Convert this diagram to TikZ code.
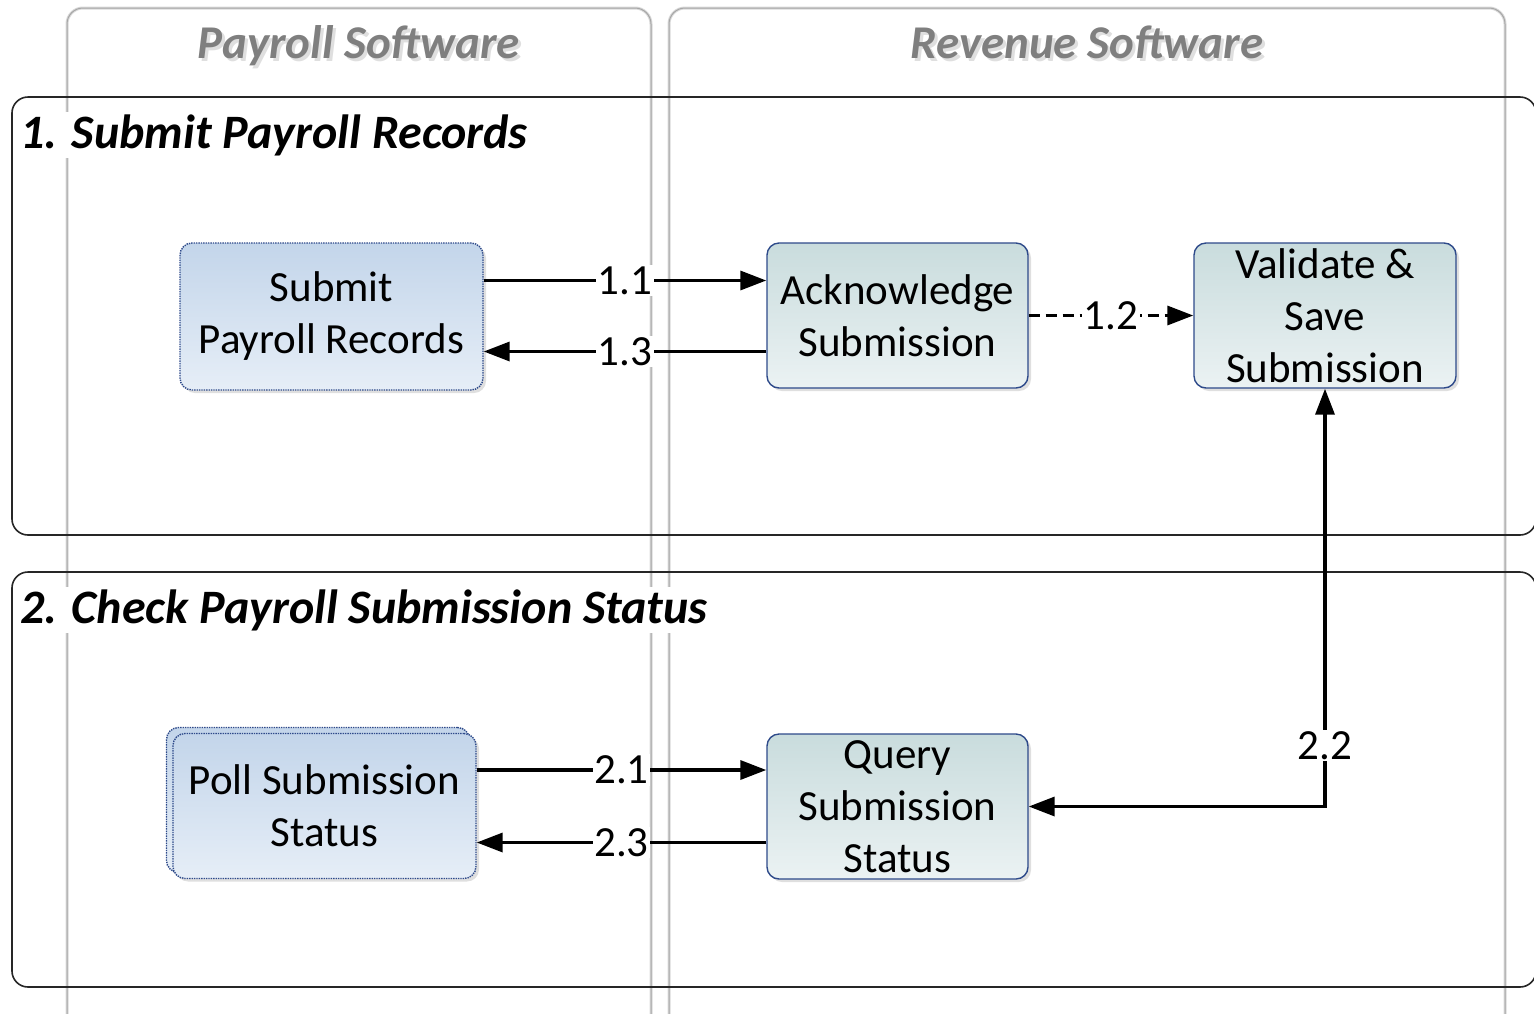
\documentclass[tikz,border=0pt]{standalone}
\usepackage{fontspec}
\setmainfont{Carlito}
\usetikzlibrary{arrows.meta,shadows}
\definecolor{borderblue}{HTML}{2E4A8A}
\definecolor{blueTop}{HTML}{C3D5EA}
\definecolor{blueBot}{HTML}{E6EEF7}
\definecolor{tealTop}{HTML}{C9DCDD}
\definecolor{tealBot}{HTML}{EBF2F3}
\definecolor{headGray}{HTML}{7F7F7F}
\tikzset{
  laneouter/.style={draw=gray!30, line width=3pt, rounded corners=16pt},
  laneinner/.style={draw=gray!70, line width=1pt, rounded corners=16pt},
  phasebox/.style={draw=black!85, line width=1.6pt, rounded corners=16pt},
  proc/.style={rounded corners=12pt, align=center, font=\fontsize{43}{52}\selectfont,
    line width=1.4pt, draw=borderblue, inner sep=0pt,
    drop shadow={shadow xshift=3pt, shadow yshift=-3pt, opacity=0.25, fill=gray}},
  procblue/.style={proc, densely dotted, top color=blueTop, bottom color=blueBot},
  procteal/.style={proc, top color=tealTop, bottom color=tealBot},
  tip/.tip={Triangle[length=26pt,width=19pt]},
  flow/.style={line width=3.4pt, -tip},
  lbl/.style={fill=white, inner sep=1.5pt, font=\fontsize{43}{48}\selectfont},
  phasetitle/.style={anchor=base west, fill=white, inner sep=2pt, font=\fontsize{48}{56}\selectfont\bfseries\itshape},
  lanetitle/.style={anchor=base, font=\fontsize{47}{56}\selectfont\bfseries\itshape, text=headGray},
  lanetitleshadow/.style={anchor=base, font=\fontsize{47}{56}\selectfont\bfseries\itshape, text=gray!25},
}
\begin{document}
\begin{tikzpicture}[x=1pt,y=-1pt]
\useasboundingbox (0,0) rectangle (1534,1013);
\clip (0,0) rectangle (1534,1013);

% lanes
\draw[laneouter] (67,1040) -- (67,8) -- (651,8) -- (651,1040);
\draw[laneinner] (67,1040) -- (67,8) -- (651,8) -- (651,1040);
\draw[laneouter] (669,1040) -- (669,8) -- (1505,8) -- (1505,1040);
\draw[laneinner] (669,1040) -- (669,8) -- (1505,8) -- (1505,1040);
\node[lanetitleshadow] (payrollshadow) at (362,61) {Payroll Software};
\node[lanetitle] (payrolltitle) at (359,58) {Payroll Software};
\node[lanetitleshadow] (revenueshadow) at (1090,61) {Revenue Software};
\node[lanetitle] (revenuetitle) at (1087,58) {Revenue Software};

% phases
\draw[phasebox] (12,97) rectangle (1536,535);
\draw[phasebox] (12,572) rectangle (1536,987);
\node[phasetitle] (phase1) at (18,148) {1. Submit Payroll Records};
\node[phasetitle] (phase2) at (18,623) {2. Check Payroll Submission Status};

% process nodes
\node[procblue, minimum width=303pt, minimum height=147pt] (submit) at (331.5,316.5) {Submit\\Payroll Records};
\node[procteal, minimum width=261pt, minimum height=145pt] (ack) at (897.5,315.5) {Acknowledge\\Submission};
\node[procteal, minimum width=262pt, minimum height=145pt] (validate) at (1325,315.5) {Validate \&\\Save\\Submission};
\node[procblue, minimum width=303pt, minimum height=145pt] (pollback) at (318,800) {};
\node[procblue, minimum width=303pt, minimum height=145pt] (poll) at (324.5,806) {Poll Submission\\Status};
\node[procteal, minimum width=261pt, minimum height=145pt] (query) at (897.5,806.5) {Query\\Submission\\Status};

% connector end points
\coordinate (s11) at ([yshift=36pt]submit.east);
\coordinate (a13) at ([yshift=-36pt]ack.west);
\coordinate (p21) at ([yshift=36pt]poll.east);
\coordinate (q23) at ([yshift=-36pt]query.west);

% connectors
\draw[flow] (s11) -- node[lbl]{1.1} (s11 -| ack.west);
\draw[flow] (a13) -- node[lbl]{1.3} (a13 -| submit.east);
\draw[flow, dashed, dash pattern=on 11pt off 6pt] (ack.east) -- node[lbl]{1.2} (validate.west);
\draw[flow] (p21) -- node[lbl]{2.1} (p21 -| query.west);
\draw[flow] (q23) -- node[lbl]{2.3} (q23 -| poll.east);
\draw[line width=3.4pt, tip-tip] (query.east) -| node[lbl, pos=0.573]{2.2} (validate.south);
\end{tikzpicture}
\end{document}
